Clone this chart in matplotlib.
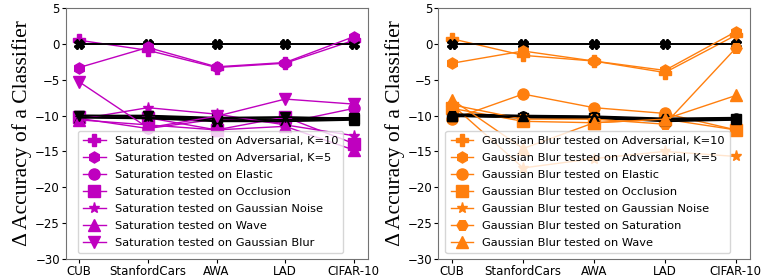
import matplotlib
matplotlib.use("Agg")
import matplotlib.pyplot as plt

datasets = ["CUB", "StanfordCars", "AWA", "LAD", "CIFAR-10"]

# Left panel: Saturation-trained classifier
sat_labels = ["Saturation tested on Adversarial, K=10",
              "Saturation tested on Adversarial, K=5",
              "Saturation tested on Elastic",
              "Saturation tested on Occlusion",
              "Saturation tested on Gaussian Noise",
              "Saturation tested on Wave",
              "Saturation tested on Gaussian Blur"]
sat_markers = ["P", "h", "o", "s", "*", "^", "v"]
sat_adv10 = [0.5, -0.9, -3.3, -2.7, 0.5]
sat_adv5 = [-3.3, -0.5, -3.2, -2.6, 1.0]
sat_elastic = [-10.4, -11.8, -10.5, -11.0, -9.0]
sat_occlusion = [-10.2, -10.3, -12.0, -10.2, -13.9]
sat_noise = [-10.5, -8.9, -9.8, -11.3, -12.8]
sat_wave = [-10.6, -11.3, -12.0, -11.5, -14.8]
sat_blur = [-5.3, -11.7, -10.1, -7.7, -8.4]
sat_base_adv10 = [0, 0, 0, 0, 0]
sat_base_adv5 = [0, 0, 0, 0, 0]
sat_base_elastic = [-10.1, -10.2, -10.6, -10.5, -10.3]
sat_base_occlusion = [-10.0, -10.1, -10.4, -10.3, -10.5]
sat_base_noise = [-10.2, -10.3, -10.7, -10.6, -10.4]
sat_base_wave = [-10.3, -10.4, -10.8, -10.8, -10.6]
sat_base_blur = [-10.0, -10.0, -10.3, -10.2, -10.4]

# Right panel: Gaussian Blur-trained classifier
gb_labels = ["Gaussian Blur tested on Adversarial, K=10",
             "Gaussian Blur tested on Adversarial, K=5",
             "Gaussian Blur tested on Elastic",
             "Gaussian Blur tested on Occlusion",
             "Gaussian Blur tested on Gaussian Noise",
             "Gaussian Blur tested on Saturation",
             "Gaussian Blur tested on Wave"]
gb_markers = ["P", "h", "o", "s", "*", "H", "^"]
gb_adv10 = [0.7, -1.6, -2.4, -4.0, 1.2]
gb_adv5 = [-2.7, -1.0, -2.4, -3.7, 1.7]
gb_elastic = [-10.5, -7.0, -8.9, -9.7, -12.0]
gb_occlusion = [-9.0, -10.8, -11.0, -10.5, -12.0]
gb_noise = [-8.5, -17.3, -16.0, -15.0, -15.7]
gb_saturation = [-8.5, -10.5, -10.5, -11.2, -0.6]
gb_wave = [-7.8, -14.6, -11.0, -10.5, -7.2]
gb_base_adv10 = [0, 0, 0, 0, 0]
gb_base_adv5 = [0, 0, 0, 0, 0]
gb_base_elastic = [-9.9, -10.1, -10.2, -10.5, -10.4]
gb_base_occlusion = [-10.0, -10.3, -10.4, -10.7, -10.5]
gb_base_noise = [-10.1, -10.2, -10.3, -10.8, -10.6]
gb_base_saturation = [-9.8, -10.0, -10.1, -10.4, -10.3]
gb_base_wave = [-10.0, -10.1, -10.2, -10.6, -10.5]

yticks = [5, 0, -5, -10, -15, -20, -25, -30]

fig = plt.figure(figsize=(7.61, 2.77), dpi=100)
ax1 = fig.add_axes([65.5 / 761, 18 / 277, 302 / 761, 251 / 277])
ax2 = fig.add_axes([438 / 761, 18 / 277, 312 / 761, 251 / 277])

panels = [
    (ax1, "m", sat_labels, sat_markers,
     [sat_adv10, sat_adv5, sat_elastic, sat_occlusion, sat_noise, sat_wave, sat_blur],
     [sat_base_adv10, sat_base_adv5, sat_base_elastic, sat_base_occlusion,
      sat_base_noise, sat_base_wave, sat_base_blur]),
    (ax2, "#ff7f0e", gb_labels, gb_markers,
     [gb_adv10, gb_adv5, gb_elastic, gb_occlusion, gb_noise, gb_saturation, gb_wave],
     [gb_base_adv10, gb_base_adv5, gb_base_elastic, gb_base_occlusion,
      gb_base_noise, gb_base_saturation, gb_base_wave]),
]

x = list(range(len(datasets)))
for ax, color, labels, markers, series, bases in panels:
    for lab, mk, vals, base in zip(labels, markers, series, bases):
        bmk = "X" if base[0] == 0 and max(base) == 0 else mk
        ax.plot(x, base, color="black", marker=bmk, markersize=6.5, linewidth=1.3)
        ax.plot(x, vals, color=color, marker=mk, markersize=8, linewidth=1.0, label=lab)
    ax.set_ylim(-30, 5)
    ax.set_yticks(yticks)
    ax.set_xticks(x)
    ax.set_xticklabels(datasets)
    ax.tick_params(labelsize=8.5, length=3, pad=1)
    for sp in ax.spines.values():
        sp.set_color("0.45")
    ax.set_ylabel("Δ Accuracy of a Classifier", family="Liberation Serif", fontsize=15.5, labelpad=2)
    ax.legend(loc="lower center", fontsize=8.2, labelspacing=0.62, handlelength=2.0,
              borderpad=0.45, handletextpad=0.8, markerscale=1.0, bbox_to_anchor=(0.48, 0.0))

fig.savefig("out.png", dpi=100)
